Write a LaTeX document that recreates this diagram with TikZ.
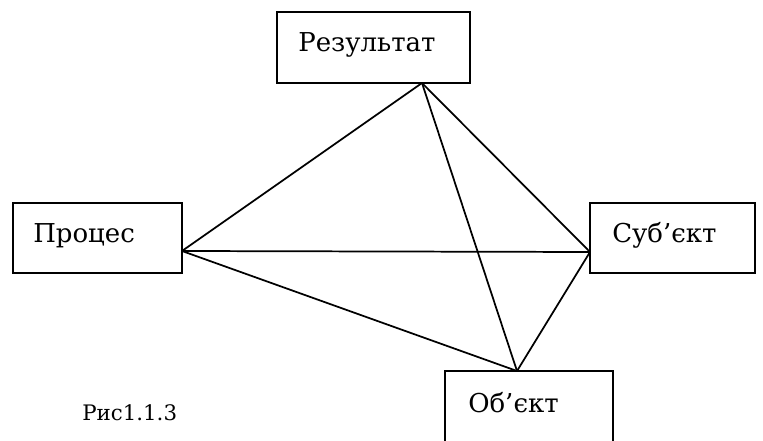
\documentclass[tikz,border=0pt]{standalone}
\usepackage{fontspec}
\setmainfont{DejaVu Serif}
\newfontfamily\tnr{DejaVu Serif}
\begin{document}
\begin{tikzpicture}[x=0.75pt,y=-0.75pt,
  box/.style={draw, line width=1.3pt, rectangle, inner sep=0pt},
  lbl/.style={anchor=base west, inner sep=0pt, font=\tnr\fontsize{19.5}{24}\selectfont},
  figlbl/.style={anchor=base west, inner sep=0pt, font=\tnr\fontsize{16}{20}\selectfont},
  link/.style={line width=1.3pt}]
\clip (0,0) rectangle (763,441);
\fill[white] (0,0) rectangle (763,441);
% boxes
\node[box, minimum width=144.75pt, minimum height=53.25pt] (res) at (373.5,47.5) {};
\node[box, minimum width=126.75pt, minimum height=52.5pt] (proc) at (97.5,238) {};
\node[box, minimum width=123.75pt, minimum height=52.5pt] (sub) at (672.5,238) {};
\node[box, minimum width=126pt, minimum height=75pt] (obj) at (529,421) {};
% labels
\node[lbl] (tres) at (298,52) {Результат};
\node[lbl] (tproc) at (33,243) {Процес};
\node[lbl] (tsub) at (612,243) {Суб’єкт};
\node[lbl] (tobj) at (468,412) {Об’єкт};
\node[figlbl] (fig) at (82,420) {Рис1.1.3};
% attachment points
\coordinate (rA) at (422,83);
\coordinate (pA) at (182,251);
\coordinate (sA) at (590,252);
\coordinate (oA) at (517,371);
% connectors
\draw[link] (rA) -- (pA);
\draw[link] (rA) -- (sA);
\draw[link] (rA) -- (oA);
\draw[link] (pA) -- (sA);
\draw[link] (pA) -- (oA);
\draw[link] (sA) -- (oA);
\end{tikzpicture}
\end{document}
